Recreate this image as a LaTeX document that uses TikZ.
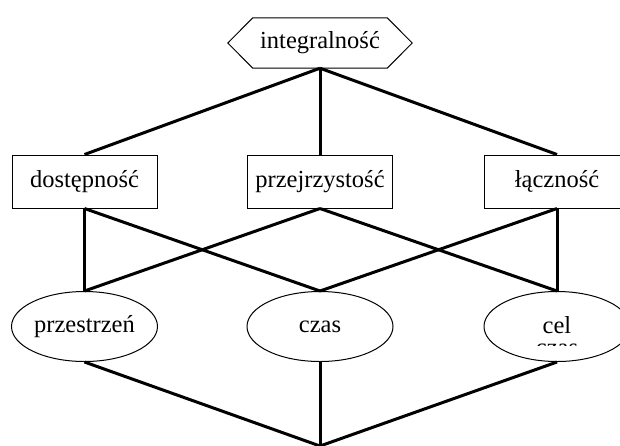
\documentclass[tikz,border=0pt]{standalone}
\usepackage{fontspec}
\setmainfont{Liberation Serif}
\usetikzlibrary{calc,shapes.geometric}
\begin{document}
\begin{tikzpicture}[x=1pt,y=-1pt,
  every node/.style={font=\fontsize{24.5}{28}\selectfont, inner sep=0pt},
  border/.style={draw=black, line width=1pt},
  link/.style={draw=black, line width=3pt},
  hexbox/.style={minimum width=134pt, minimum height=50pt},
  boxnode/.style={border, rectangle, minimum width=145pt, minimum height=53pt},
  ellnode/.style={border, ellipse, minimum width=146pt, minimum height=70pt}]
\useasboundingbox (0,0) rectangle (620,445);
% nodes
\node[hexbox] (hex) at (320,43) {integralność};
\draw[border] (hex.north west) -- (hex.north east) -- ($(hex.east)+(25,0)$)
  -- (hex.south east) -- (hex.south west) -- ($(hex.west)+(-25,0)$) -- cycle;
\node[boxnode] (dos) at (84.5,181.5) {dostępność};
\node[boxnode] (prz) at (320,181.5) {przejrzystość};
\node[boxnode] (lac) at (557,181.5) {łączność};
\node[ellnode] (pst) at (84.5,326.5) {przestrzeń};
\node[ellnode] (cza) at (320,326.5) {czas};
\node[ellnode, text depth=0pt] (cel) at (557,326.5) {\raisebox{4pt}{cel}};
\begin{scope}
  \clip (520,342.5) rectangle (600,345);
  \node[anchor=base] (celczas) at (557,355) {czas};
\end{scope}
\coordinate (bot) at (320,446);
% connectors
\draw[link] (hex.south) -- (dos.north);
\draw[link] (hex.south) -- (prz.north);
\draw[link] (hex.south) -- (lac.north);
\draw[link] (dos.south) -- (pst.north);
\draw[link] (dos.south) -- (cza.north);
\draw[link] (prz.south) -- (pst.north);
\draw[link] (prz.south) -- (cel.north);
\draw[link] (lac.south) -- (cza.north);
\draw[link] (lac.south) -- (cel.north);
\draw[link] (pst.south) -- (bot);
\draw[link] (cza.south) -- (bot);
\draw[link] (cel.south) -- (bot);
\end{tikzpicture}
\end{document}
